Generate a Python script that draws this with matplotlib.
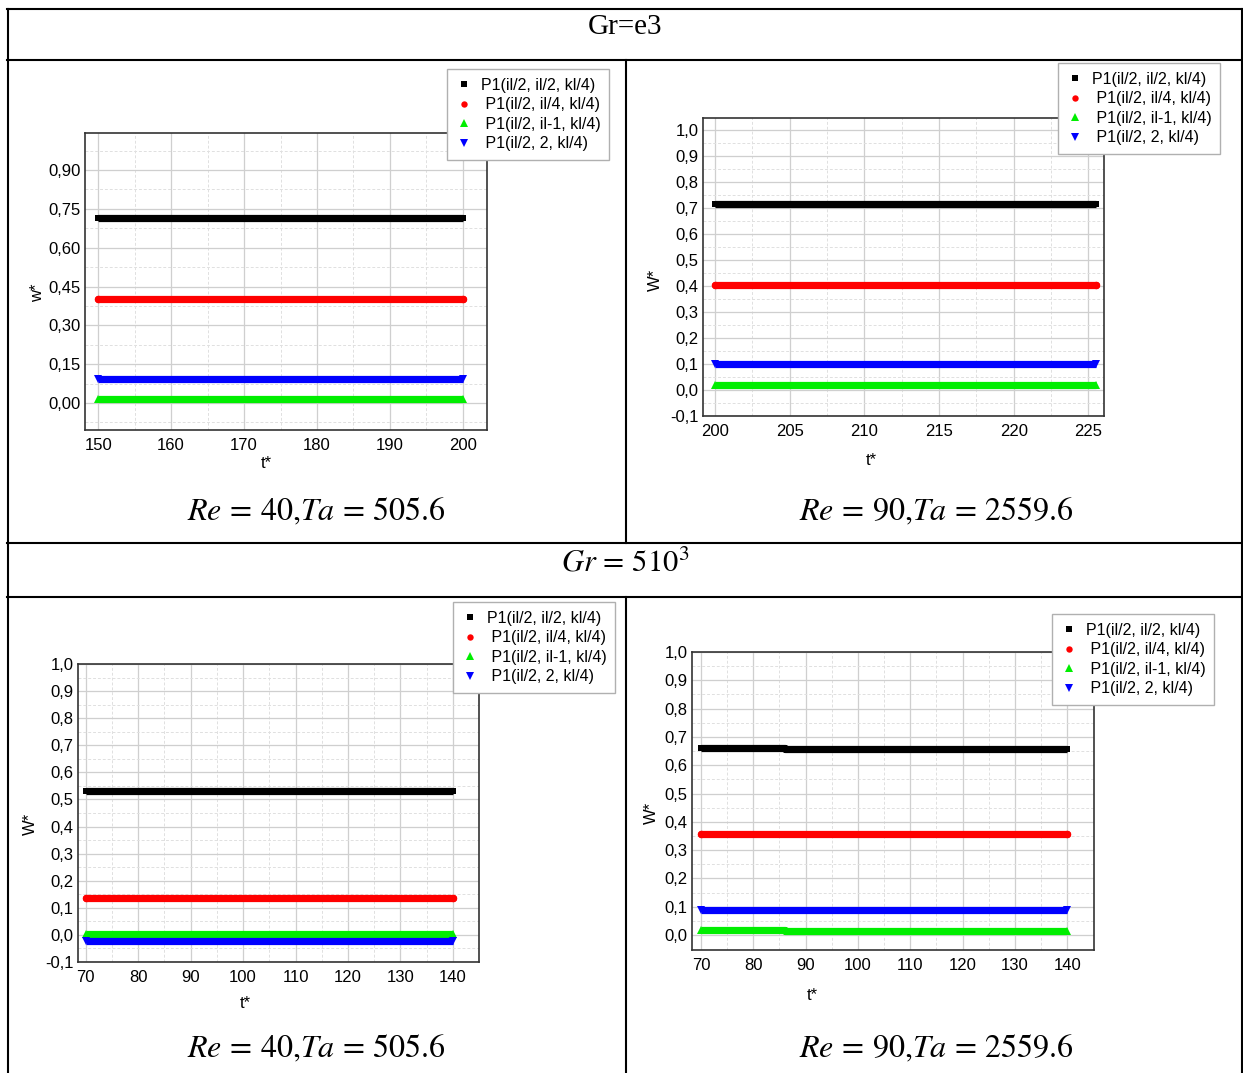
import matplotlib
matplotlib.use("Agg")
import matplotlib.pyplot as plt
from matplotlib.lines import Line2D

plt.rcParams['font.family'] = ['Liberation Sans', 'DejaVu Sans']
plt.rcParams['mathtext.fontset'] = 'stix'

W, H = 1243, 1073

# series names / styles order
series_names = ["P1(il/2, il/2, kl/4)", " P1(il/2, il/4, kl/4)",
                " P1(il/2, il-1, kl/4)", " P1(il/2, 2, kl/4)"]

# top-left: Gr=e3, Re=40
tl_t = [150, 200]
tl_black = [0.715, 0.715]
tl_red = [0.400, 0.400]
tl_green = [0.017, 0.017]
tl_blue = [0.094, 0.094]
tl_yticks = [0.0, 0.15, 0.30, 0.45, 0.60, 0.75, 0.90]
tl_yticklabels = ["0,00", "0,15", "0,30", "0,45", "0,60", "0,75", "0,90"]
tl_xticks = [150, 160, 170, 180, 190, 200]

# top-right: Gr=e3, Re=90
tr_t = [200, 225.5]
tr_black = [0.717, 0.717]
tr_red = [0.405, 0.405]
tr_green = [0.018, 0.018]
tr_blue = [0.099, 0.099]
tr_xticks = [200, 205, 210, 215, 220, 225]

# bottom-left: Gr=5e3, Re=40
bl_t = [70, 140]
bl_black = [0.532, 0.532]
bl_red = [0.137, 0.137]
bl_green = [0.002, 0.002]
bl_blue = [-0.021, -0.021]

# bottom-right: Gr=5e3, Re=90 (small step near the start)
br_t = [70, 86, 86, 140]
br_black = [0.662, 0.662, 0.659, 0.659]
br_red = [0.358, 0.358, 0.356, 0.356]
br_green = [0.016, 0.016, 0.014, 0.014]
br_blue = [0.088, 0.088, 0.088, 0.088]

y_ticks_01 = [-0.1, 0.0, 0.1, 0.2, 0.3, 0.4, 0.5, 0.6, 0.7, 0.8, 0.9, 1.0]
y_labels_01 = ["-0,1", "0,0", "0,1", "0,2", "0,3", "0,4", "0,5",
               "0,6", "0,7", "0,8", "0,9", "1,0"]
x_ticks_70 = [70, 80, 90, 100, 110, 120, 130, 140]

colors = ["#000000", "#ff0000", "#00ee00", "#0000ff"]
markers = ["s", "o", "^", "v"]
end_ms = [5.0, 5.4, 6.0, 6.0]


def rect(l, t, r, b):
    return [l / W, 1 - b / H, (r - l) / W, (b - t) / H]


fig = plt.figure(figsize=(W / 100, H / 100), dpi=100)


def make_panel(box, t, ys, xlim, ylim, xticks, xminor, yticks, ylabels, yminor,
               ylab, ylab_pos, tlab_pos, leg_pos, caption, cap_pos):
    ax = fig.add_axes(rect(*box))
    for i in range(4):
        ax.plot(t, ys[i], color=colors[i], lw=5.2,
                solid_capstyle='round' if markers[i] == 'o' else 'butt',
                zorder=3)
        ax.plot([t[0], t[-1]], [ys[i][0], ys[i][-1]], ls='none',
                marker=markers[i], ms=end_ms[i], mew=0, color=colors[i],
                zorder=3, label=series_names[i])
    ax.set_xlim(*xlim)
    ax.set_ylim(*ylim)
    ax.set_xticks(xticks)
    ax.set_xticklabels([str(x) for x in xticks])
    ax.set_xticks(xminor, minor=True)
    ax.set_yticks(yticks)
    ax.set_yticklabels(ylabels)
    ax.set_yticks(yminor, minor=True)
    ax.tick_params(which='both', length=0)
    ax.tick_params(axis='x', pad=6, labelsize=12)
    ax.tick_params(axis='y', pad=3, labelsize=12)
    ax.grid(which='major', color='#cfcfcf', lw=0.9)
    ax.grid(which='minor', color='#e0e0e0', lw=0.7, ls=(0, (3, 2)))
    ax.set_axisbelow(True)
    for s in ax.spines.values():
        s.set_color('#333333')
        s.set_linewidth(1.2)
    fig.text(ylab_pos[0] / W, 1 - ylab_pos[1] / H, ylab, rotation=90,
             ha='center', va='center', fontsize=12)
    fig.text(tlab_pos[0] / W, 1 - tlab_pos[1] / H, "t*",
             ha='center', va='center', fontsize=12)
    leg = ax.legend(loc='upper left',
                    bbox_to_anchor=(leg_pos[0] / W, 1 - leg_pos[1] / H),
                    bbox_transform=fig.transFigure, fontsize=11.5,
                    markerscale=0.85, handlelength=1.0, handletextpad=0.55,
                    labelspacing=0.28, borderpad=0.55, fancybox=False,
                    framealpha=1, edgecolor='#b0b0b0', borderaxespad=0)
    leg.get_frame().set_linewidth(1.0)
    leg.set_zorder(10)
    fig.text(cap_pos[0] / W, 1 - cap_pos[1] / H, caption,
             ha='center', va='center', fontsize=23)
    return ax


make_panel((85, 133, 487, 430), tl_t, [tl_black, tl_red, tl_green, tl_blue],
           (148.2, 203.3), (-0.104, 1.043), tl_xticks,
           [155, 165, 175, 185, 195],
           tl_yticks, tl_yticklabels,
           [-0.075, 0.075, 0.225, 0.375, 0.525, 0.675, 0.825, 0.975],
           "w*", (38, 293), (266, 464), (447, 69),
           r"$Re\,=\,40{,}Ta\,=\,505.6$", (316, 512))

make_panel((703, 118, 1104, 416), tr_t, [tr_black, tr_red, tr_green, tr_blue],
           (199.2, 226.05), (-0.1, 1.046), tr_xticks,
           [202.5, 207.5, 212.5, 217.5, 222.5],
           y_ticks_01, y_labels_01,
           [-0.05, 0.05, 0.15, 0.25, 0.35, 0.45, 0.55, 0.65, 0.75, 0.85, 0.95],
           "W*", (655, 280), (871, 461), (1058, 63),
           r"$Re\,=\,90{,}Ta\,=\,2559.6$", (936, 512))

make_panel((78, 664, 479, 962), bl_t, [bl_black, bl_red, bl_green, bl_blue],
           (68.5, 145.0), (-0.1, 1.0), x_ticks_70,
           [75, 85, 95, 105, 115, 125, 135],
           y_ticks_01, y_labels_01,
           [-0.05, 0.05, 0.15, 0.25, 0.35, 0.45, 0.55, 0.65, 0.75, 0.85, 0.95],
           "W*", (30, 824), (245, 1003), (453, 602),
           r"$Re\,=\,40{,}Ta\,=\,505.6$", (316, 1049))

make_panel((692, 652, 1094, 950), br_t, [br_black, br_red, br_green, br_blue],
           (68.3, 145.1), (-0.053, 1.0), x_ticks_70,
           [75, 85, 95, 105, 115, 125, 135],
           y_ticks_01[1:], y_labels_01[1:],
           [0.05, 0.15, 0.25, 0.35, 0.45, 0.55, 0.65, 0.75, 0.85, 0.95],
           "W*", (651, 813), (812, 995), (1052, 614),
           r"$Re\,=\,90{,}Ta\,=\,2559.6$", (936, 1049))


# table borders
def hline(y, x0=7, x1=1243):
    fig.add_artist(Line2D([x0 / W, x1 / W], [1 - y / H, 1 - y / H],
                          color='black', lw=1.5))


def vline(x, y0, y1):
    fig.add_artist(Line2D([x / W, x / W], [1 - y0 / H, 1 - y1 / H],
                          color='black', lw=1.5))


hline(9)
hline(60)
hline(543)
hline(597)
vline(7.5, 9, 1073)
vline(1242, 9, 1073)
vline(626, 60, 543)
vline(626, 597, 1073)

fig.text(625 / W, 1 - 27 / H, "Gr=e3", ha='center', va='center',
         fontsize=21, family=['Liberation Serif', 'DejaVu Serif'])
fig.text(625 / W, 1 - 564 / H, r"$Gr\,=\,510^3$", ha='center', va='center',
         fontsize=22)

fig.savefig("out.png", dpi=100)
